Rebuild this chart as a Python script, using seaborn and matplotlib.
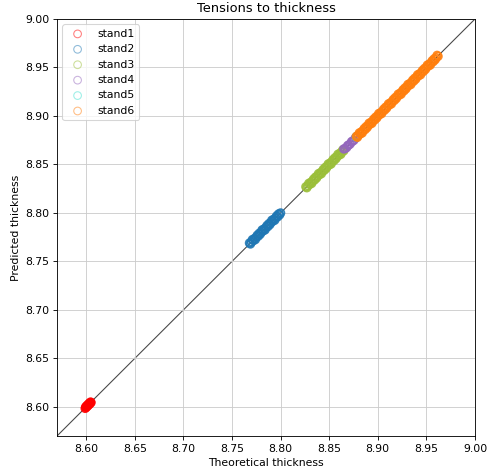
import matplotlib
matplotlib.use("Agg")
import matplotlib.pyplot as plt
import seaborn as sns
import pandas as pd

stand_names = ["stand1", "stand2", "stand3", "stand4", "stand5", "stand6"]
stand_colors = ["red", "tab:blue", "#9bbf3a", "tab:purple", "turquoise", "tab:orange"]

stand1_theo = [8.5990, 8.5995, 8.6000, 8.6005, 8.6010, 8.6015, 8.6020, 8.6025, 8.6030,
               8.6035, 8.6040, 8.6045, 8.6050]
stand1_pred = [8.5985, 8.6000, 8.5995, 8.6010, 8.6005, 8.6020, 8.6015, 8.6030, 8.6025,
               8.6040, 8.6035, 8.6050, 8.6045]

stand2_theo = [8.768, 8.769, 8.770, 8.771, 8.772, 8.773, 8.774, 8.775, 8.776, 8.777,
               8.778, 8.779, 8.780, 8.781, 8.782, 8.783, 8.784, 8.785, 8.786, 8.787,
               8.788, 8.789, 8.790, 8.791, 8.792, 8.793, 8.794, 8.795, 8.796, 8.797,
               8.798, 8.799, 8.800]
stand2_pred = [8.7690, 8.7680, 8.7700, 8.7725, 8.7715, 8.7735, 8.7725, 8.7750, 8.7770, 8.7760,
               8.7790, 8.7780, 8.7800, 8.7825, 8.7815, 8.7835, 8.7825, 8.7850, 8.7870, 8.7860,
               8.7890, 8.7880, 8.7900, 8.7925, 8.7915, 8.7935, 8.7925, 8.7950, 8.7970, 8.7960,
               8.7990, 8.7980, 8.8000]

stand3_theo = [8.826, 8.827, 8.828, 8.829, 8.830, 8.831, 8.832, 8.833, 8.834, 8.835,
               8.836, 8.837, 8.838, 8.839, 8.840, 8.841, 8.842, 8.843, 8.844, 8.845,
               8.846, 8.847, 8.848, 8.849, 8.850, 8.851, 8.852, 8.853, 8.854, 8.855,
               8.856, 8.857, 8.858, 8.859, 8.860, 8.861, 8.862, 8.863, 8.864, 8.865]
stand3_pred = [8.8270, 8.8260, 8.8280, 8.8305, 8.8295, 8.8315, 8.8305, 8.8330, 8.8350, 8.8340,
               8.8370, 8.8360, 8.8380, 8.8405, 8.8395, 8.8415, 8.8405, 8.8430, 8.8450, 8.8440,
               8.8470, 8.8460, 8.8480, 8.8505, 8.8495, 8.8515, 8.8505, 8.8530, 8.8550, 8.8540,
               8.8570, 8.8560, 8.8580, 8.8605, 8.8595, 8.8615, 8.8605, 8.8630, 8.8650, 8.8640]

stand4_theo = [8.8650, 8.8665, 8.8680, 8.8690, 8.8700, 8.8715, 8.8730, 8.8740, 8.8755,
               8.8770, 8.8780]
stand4_pred = [8.8660, 8.8665, 8.8675, 8.8695, 8.8700, 8.8710, 8.8735, 8.8740, 8.8750,
               8.8775, 8.8780]

stand5_theo = [8.8780, 8.8790]
stand5_pred = [8.8785, 8.8795]

stand6_theo = [8.878, 8.879, 8.880, 8.881, 8.882, 8.883, 8.884, 8.885, 8.886, 8.887,
               8.888, 8.889, 8.890, 8.891, 8.892, 8.893, 8.894, 8.895, 8.896, 8.897,
               8.898, 8.899, 8.900, 8.901, 8.902, 8.903, 8.904, 8.905, 8.906, 8.907,
               8.908, 8.909, 8.910, 8.911, 8.912, 8.913, 8.914, 8.915, 8.916, 8.917,
               8.918, 8.919, 8.920, 8.921, 8.922, 8.923, 8.924, 8.925, 8.926, 8.927,
               8.928, 8.929, 8.930, 8.931, 8.932, 8.933, 8.934, 8.935, 8.936, 8.937,
               8.938, 8.939, 8.940, 8.941, 8.942, 8.943, 8.944, 8.945, 8.946, 8.947,
               8.948, 8.949, 8.950, 8.951, 8.952, 8.953, 8.954, 8.955, 8.956, 8.957,
               8.958, 8.959, 8.960, 8.961, 8.962]
stand6_pred = [8.8790, 8.8780, 8.8800, 8.8825, 8.8815, 8.8835, 8.8825, 8.8850, 8.8870, 8.8860,
               8.8890, 8.8880, 8.8900, 8.8925, 8.8915, 8.8935, 8.8925, 8.8950, 8.8970, 8.8960,
               8.8990, 8.8980, 8.9000, 8.9025, 8.9015, 8.9035, 8.9025, 8.9050, 8.9070, 8.9060,
               8.9090, 8.9080, 8.9100, 8.9125, 8.9115, 8.9135, 8.9125, 8.9150, 8.9170, 8.9160,
               8.9190, 8.9180, 8.9200, 8.9225, 8.9215, 8.9235, 8.9225, 8.9250, 8.9270, 8.9260,
               8.9290, 8.9280, 8.9300, 8.9325, 8.9315, 8.9335, 8.9325, 8.9350, 8.9370, 8.9360,
               8.9390, 8.9380, 8.9400, 8.9425, 8.9415, 8.9435, 8.9425, 8.9450, 8.9470, 8.9460,
               8.9490, 8.9480, 8.9500, 8.9525, 8.9515, 8.9535, 8.9525, 8.9550, 8.9570, 8.9560,
               8.9590, 8.9580, 8.9600, 8.9625, 8.9615]

theo = [stand1_theo, stand2_theo, stand3_theo, stand4_theo, stand5_theo, stand6_theo]
pred = [stand1_pred, stand2_pred, stand3_pred, stand4_pred, stand5_pred, stand6_pred]

xlim = (8.57, 9.0)
x_ticks = [8.60, 8.65, 8.70, 8.75, 8.80, 8.85, 8.90, 8.95, 9.00]

DPI = 78
fig = plt.figure(figsize=(488 / DPI, 472 / DPI), dpi=DPI)
ax = fig.add_axes([57 / 488, 1 - 436 / 472, 418 / 488, 417 / 472])

for name, col, t, p in zip(stand_names, stand_colors, theo, pred):
    df = pd.DataFrame({"Theoretical thickness": t, "Predicted thickness": p})
    sns.scatterplot(data=df, x="Theoretical thickness", y="Predicted thickness", ax=ax,
                    facecolors="none", edgecolor=col, linewidth=1.6, s=50,
                    alpha=0.9, label=name, legend=False)

ax.plot(xlim, xlim, color="#333333", linewidth=1.0, alpha=0.9, zorder=0)
ax.set_xlim(xlim)
ax.set_ylim(xlim)
ax.set_xticks(x_ticks)
ax.set_yticks(x_ticks)
ax.set_xticklabels([f"{v:.2f}" for v in x_ticks])
ax.set_yticklabels([f"{v:.2f}" for v in x_ticks])
ax.grid(True, color="#cccccc", linewidth=0.8)
ax.set_axisbelow(True)
ax.set_title("Tensions to thickness")
ax.set_xlabel("Theoretical thickness")
ax.set_ylabel("Predicted thickness")
leg = ax.legend(loc="upper left")
for h in leg.legend_handles:
    h.set_alpha(0.5)
    h.set_linewidth(1.0)

fig.savefig("out.png", dpi=DPI)
